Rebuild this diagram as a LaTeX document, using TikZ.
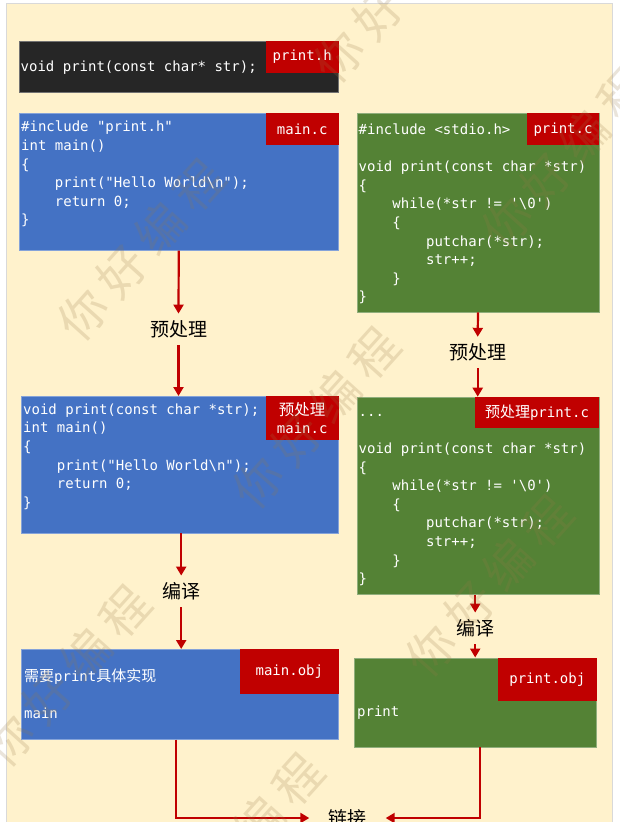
\documentclass[tikz,border=0pt]{standalone}
\usepackage{fontspec}
\newfontfamily\codefont{DejaVu Sans Mono}
\newfontfamily\cjk{Noto Sans CJK SC}
\usetikzlibrary{arrows.meta}
\definecolor{cream}{HTML}{FFF2CC}
\definecolor{framecol}{HTML}{D9D9D9}
\definecolor{cblue}{HTML}{4472C4}
\definecolor{cgreen}{HTML}{548235}
\definecolor{cdark}{HTML}{262626}
\definecolor{cred}{HTML}{C00000}
\definecolor{wmcol}{RGB}{150,120,70}
\newcommand\ind{\hphantom{xxxx}}
\begin{document}
\begin{tikzpicture}[x=1pt,y=-1pt,
  cbox/.style={rectangle, inner sep=0pt, anchor=north west, fill=#1, draw=#1!65!white, line width=0.6pt},
  ctag/.style={rectangle, inner sep=0pt, anchor=north east, fill=cred, text=white, font=\codefont\fontsize{14}{18.3}\selectfont, align=center},
  ccode/.style={inner sep=0pt, anchor=north west, text=white, align=left, font=\codefont\fontsize{14}{18.6}\selectfont},
  cline/.style={inner sep=0pt, anchor=base west, text=white, font=\codefont\fontsize{14}{18.6}\selectfont},
  clabel/.style={inner sep=0pt, minimum height=31pt, font=\cjk\fontsize{19}{22}\selectfont, text=black},
  carrow/.style={draw=cred, line width=2.2pt, -{Triangle[length=9pt,width=10pt]}},
  wmark/.style={font=\cjk\fontsize{48}{50}\selectfont, text=wmcol, text opacity=0.2, rotate=48, inner sep=0pt},
]
\useasboundingbox (0,0) rectangle (619,826);
\fill[white] (0,0) rectangle (619,826);
\filldraw[fill=cream, draw=framecol, line width=0.8pt] (6.3,3.3) rectangle (612.6,830);

% print.h
\node[cbox=cdark, minimum width=319.7pt, minimum height=50.7pt] (ph) at (18.6,41) {};
\node[ctag, minimum width=73pt, minimum height=31.7pt] (phtag) at (ph.north east) {print.h};
\node[cline] (phtext) at (20.5,71.7) {void print(const char* str);};

% main.c
\node[cbox=cblue, minimum width=319.7pt, minimum height=136.7pt] (mainc) at (18.6,113.3) {};
\node[ctag, minimum width=73pt, minimum height=31.7pt] (mainctag) at (mainc.north east) {main.c};
\node[ccode] (maincode) at (21,118.7) {\strut\#include "print.h"\\int main()\\\{\\\ind print("Hello World\textbackslash n");\\\ind return 0;\\\}};

% print.c
\node[cbox=cgreen, minimum width=242.4pt, minimum height=198.4pt] (printc) at (356.5,113.3) {};
\node[ctag, minimum width=72.6pt, minimum height=31.7pt] (printctag) at (printc.north east) {print.c};
\node[ccode] (printcode) at (358.5,121.3) {\strut\#include <stdio.h>\\\strut\\void print(const char *str)\\\{\\\ind while(*str != '\textbackslash 0')\\\ind\{\\\ind\ind putchar(*str);\\\ind\ind str++;\\\ind\}\\\}};

% preprocessed main.c
\node[cbox=cblue, minimum width=317.4pt, minimum height=136.7pt] (prem) at (20.9,396) {};
\node[ctag, minimum width=73pt, minimum height=44pt] (premtag) at (prem.north east) {{\cjk\fontsize{15.5}{18.3}\selectfont 预处理}\\main.c};
\node[ccode] (premcode) at (23,401) {\strut void print(const char *str);\\int main()\\\{\\\ind print("Hello World\textbackslash n");\\\ind return 0;\\\}};

% preprocessed print.c
\node[cbox=cgreen, minimum width=242.4pt, minimum height=197.3pt] (prep) at (356.5,396.7) {};
\node[ctag, minimum width=124.6pt, minimum height=31pt] (preptag) at (prep.north east) {{\cjk\fontsize{15}{18.3}\selectfont 预处理}print.c};
\node[ccode] (prepcode) at (358.5,403.1) {\strut...\\\strut\\void print(const char *str)\\\{\\\ind while(*str != '\textbackslash 0')\\\ind\{\\\ind\ind putchar(*str);\\\ind\ind str++;\\\ind\}\\\}};

% main.obj
\node[cbox=cblue, minimum width=317.4pt, minimum height=90pt] (mainobj) at (20.9,649) {};
\node[ctag, minimum width=98.7pt, minimum height=44.3pt] (mainobjtag) at (mainobj.north east) {main.obj};
\node[cline] (mainobjtxt) at (24,681.5) {{\cjk\fontsize{15}{18}\selectfont 需要}print{\cjk\fontsize{15}{18}\selectfont 具体实现}};
\node[cline] (mainobjmain) at (24,718.7) {main};

% print.obj
\node[cbox=cgreen, minimum width=242pt, minimum height=89.2pt] (printobj) at (354.1,657.5) {};
\node[ctag, minimum width=98.4pt, minimum height=43.5pt] (printobjtag) at (printobj.north east) {print.obj};
\node[cline] (printobjtxt) at (357,716) {print};

% labels
\node[clabel] (pp1) at (178.5,329.3) {预处理};
\node[clabel] (pp2) at (477.7,352.5) {预处理};
\node[clabel] (cc1) at (181.2,591.3) {编译};
\node[clabel] (cc2) at (475.2,628.3) {编译};
\node[clabel, minimum width=76pt] (link) at (347.5,818) {链接};

% arrows
\draw[carrow] (mainc.south) -- (pp1.north);
\draw[carrow] (pp1.south) -- (prem.north -| pp1.south);
\draw[carrow] (printc.south) -- (pp2.north);
\draw[carrow] (pp2.south) -- (prep.north -| pp2.south);
\draw[carrow] (cc1.north |- prem.south) -- (cc1.north);
\draw[carrow] (cc1.south) -- (mainobj.north -| cc1.south);
\draw[carrow] (cc2.north |- prep.south) -- (cc2.north);
\draw[carrow] (cc2.south) -- (printobj.north -| cc2.south);
\draw[carrow] ([xshift=-3.6pt]mainobj.south) |- (link.west);
\draw[carrow] ([xshift=4.2pt]printobj.south) |- (link.east);

% watermark
\foreach \p [count=\i] in {(141,250),(316,418),(489,586),(67,676),(240,844),(397,-8),(565,158)}
  \node[wmark] (wm\i) at \p {你\hspace{10pt}好\hspace{10pt}编\hspace{10pt}程};

\fill[white] (0,821.5) rectangle (619,826);
\end{tikzpicture}
\end{document}
